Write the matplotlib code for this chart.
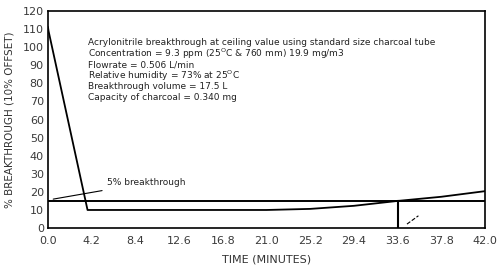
import matplotlib
matplotlib.use('Agg')
from matplotlib import pyplot as plt

# breakthrough curve
time_min = [0.0, 0.05, 3.8, 4.2, 8.4, 12.6, 16.8, 21.0, 25.2, 29.4, 33.6, 37.8, 42.0]
breakthrough = [111, 109, 10, 10, 10, 10, 10, 10, 10.6, 12.3, 15, 17.3, 20.4]

x_ticks = [0.0, 4.2, 8.4, 12.6, 16.8, 21.0, 25.2, 29.4, 33.6, 37.8, 42.0]
y_ticks = [0, 10, 20, 30, 40, 50, 60, 70, 80, 90, 100, 110, 120]

five_pct_level = 15
breakthrough_time = 33.6

info_lines = [
    "Acrylonitrile breakthrough at ceiling value using standard size charcoal tube",
    "Concentration = 9.3 ppm (25$^\\mathregular{O}$C & 760 mm) 19.9 mg/m3",
    "Flowrate = 0.506 L/min",
    "Relative humidity = 73% at 25$^\\mathregular{O}$C",
    "Breakthrough volume = 17.5 L",
    "Capacity of charcoal = 0.340 mg",
]

fig = plt.figure(figsize=(5, 2.68), dpi=100)
ax = fig.add_axes([0.096, 0.149, 0.874, 0.81])

ax.plot(time_min, breakthrough, color='black', lw=1.3)
ax.axhline(five_pct_level, color='black', lw=1.4)
ax.plot([breakthrough_time, breakthrough_time], [0, five_pct_level], color='black', lw=1.5)
ax.plot([34.5, 35.6], [2.2, 6.8], color='black', lw=0.8, linestyle='--')

ax.annotate('5% breakthrough', xy=(0.5, 16), xytext=(5.7, 25),
            fontsize=6.5, color='#222222', va='center',
            arrowprops=dict(arrowstyle='-', color='black', lw=0.8, shrinkA=2, shrinkB=0))

for i, line in enumerate(info_lines):
    ax.text(3.85, 102.5 - i * 6.1, line, fontsize=6.5, color='#222222', va='center')

ax.set_xlim(0, 42)
ax.set_ylim(0, 120)
ax.set_xticks(x_ticks)
ax.set_xticklabels([f"{v:.1f}" for v in x_ticks])
ax.set_yticks(y_ticks)
ax.tick_params(length=0, labelsize=8, colors='#3a3a3a')
ax.tick_params(axis='x', pad=6)
ax.tick_params(axis='y', pad=3)
for s in ax.spines.values():
    s.set_color('black')
    s.set_linewidth(1.2)

ax.set_xlabel('TIME (MINUTES)', fontsize=8, color='#333333', labelpad=6)
ax.set_ylabel('% BREAKTHROUGH (10% OFFSET)', fontsize=7.5, color='#333333', labelpad=6)

fig.savefig('out.png', dpi=100)
